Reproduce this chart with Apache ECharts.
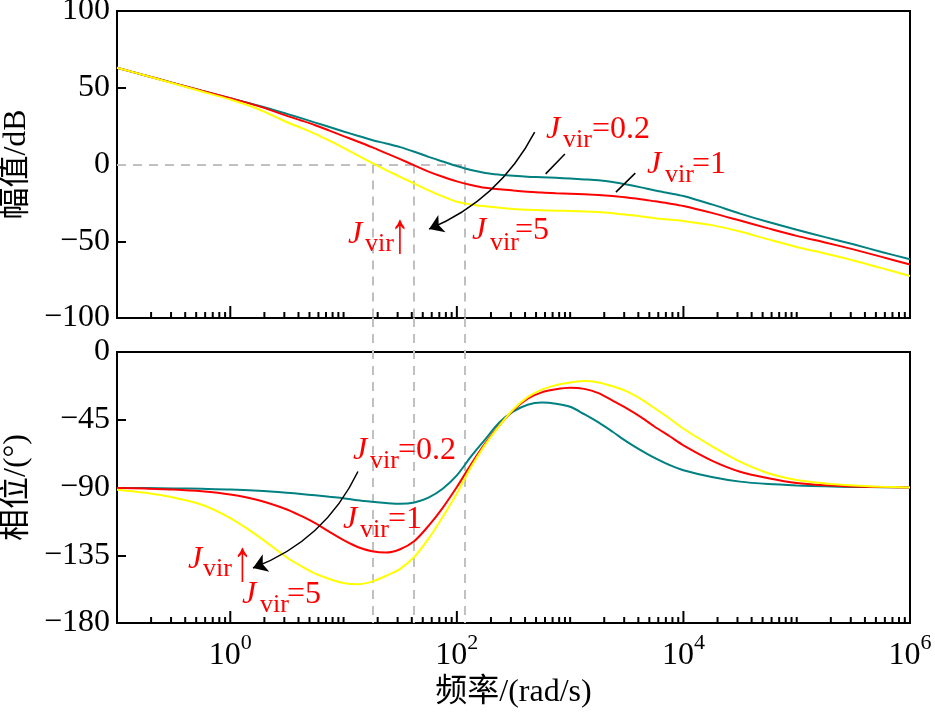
<!DOCTYPE html>
<html><head><meta charset="utf-8">
<script src="https://cdn.jsdelivr.net/npm/echarts@6/dist/echarts.min.js"></script>
<style>html,body{margin:0;padding:0;background:#fff}#c{width:935px;height:719px}</style>
</head><body><div id="c"></div>
<script>
// ---------------- data ----------------
const freqs = [0.1, 0.178, 0.316, 0.562, 1, 1.78,
  3.16, 4.22, 5.62, 7.5, 10, 13.3, 17.8, 23.7, 31.6, 42.2, 56.2, 75, 100, 133, 178, 237, 316, 422, 562, 750,
  1000, 1330, 1780, 2370, 3160, 4220, 5620, 7500, 10000,
  17800, 31600, 56200, 100000, 178000, 316000, 562000, 1000000];
const seriesNames = ['J=0.2', 'J=1', 'J=5'];
// magnitude (dB)
const magJ02 = [63, 58, 53, 48, 43.2, 38.3,
  33, 30.2, 27.3, 24.4, 21.5, 18.7, 16, 13.7, 11.3, 8.3, 5, 2, -1, -3.6, -5.5, -6.6, -7.4, -8, -8.3, -8.7,
  -9.2, -9.7, -10.3, -11.4, -13, -14.9, -17, -18.7, -20.5,
  -26, -32, -37.5, -42.5, -47.3, -52, -57, -61.7];
const magJ1 = [63, 58, 53, 48, 43.2, 38,
  31.7, 28.7, 25.6, 22.1, 18.5, 15, 11.3, 7.4, 3.5, -0.6, -4.6, -8, -11, -13.3, -15.2, -16.2, -17, -17.7, -18.3, -18.7,
  -19, -19.4, -19.8, -20.5, -21.5, -22.6, -24, -25.4, -27,
  -31.5, -36.5, -41.6, -46.5, -50.8, -55.3, -60.2, -65.2];
const magJ5 = [63, 58, 52.8, 47.6, 42.3, 36,
  27.5, 23.9, 20, 15.5, 10.8, 5.9, 1, -3.6, -8, -12.5, -16.8, -20.8, -24.3, -26, -27.2, -28.2, -29, -29.5, -29.8, -30.1,
  -30.3, -30.6, -31, -31.8, -32.8, -33.8, -35, -35.9, -36.8,
  -39.5, -43.7, -48.8, -53.7, -58, -62.5, -67.5, -72.6];
// phase (deg)
const phJ02 = [-90.3, -90.4, -90.6, -90.9, -91.3, -92.2,
  -93.5, -94.3, -95.2, -96.2, -97.1, -98.5, -99.5, -100.3, -100.8, -99.9, -96.7, -90.8, -82, -69.5, -58, -46.8, -39.5, -35, -33.6, -34.3,
  -36.4, -41.3, -46.8, -53, -59.5, -65.3, -70.5, -75, -78.5,
  -83, -86.1, -87.7, -88.6, -89.2, -89.6, -89.8, -90];
const phJ1 = [-90.3, -90.7, -91.3, -92.5, -94.7, -98.5,
  -104.6, -108.9, -113.7, -119.5, -125, -129.5, -132.3, -133.2, -131, -125.5, -115.5, -103.5, -89.7, -74.8, -60.7, -48.8, -38.5, -31, -26.8, -24.8,
  -23.8, -24.5, -27.3, -32.3, -37.5, -43.3, -49.8, -55.8, -62,
  -72.1, -79.5, -83.8, -87, -88.5, -89.3, -89.7, -90];
const phJ5 = [-91.5, -93.5, -96.7, -101.5, -110.4, -122.6,
  -136.5, -142.2, -147.2, -150.8, -153.5, -154.3, -152.5, -148.7, -144, -136, -124, -109.5, -94, -76.6, -61.5, -49, -38, -30, -25, -22,
  -20.3, -19.3, -20.2, -22.8, -26.2, -31.3, -37.5, -44, -51,
  -62.5, -72.8, -80.5, -85, -87.3, -88.7, -89.5, -90];
// crossover frequencies (0 dB) marked by dashed lines
const crossoverFreqs = [18.1, 41.8, 117.5];
const magTicks = [-100, 100, 50];   // min, max, interval
const phaseTicks = [-180, 0, 45];   // min, max, interval
const freqRange = [0.1, 1000000];
const majorTickFreqs = [1, 100, 10000];
const labelTexts = { '0.2': '=0.2', '1': '=1', '5': '=5', 'up': '\u2191' };

// ---------------- layout ----------------
const L = 117, R = 25;
const g0 = { top: 11, height: 307 };
const g1 = { top: 352, height: 271 };
const colors = ['#008080', '#ff0000', '#ffff00'];
const FONT = "'Liberation Serif', 'Times New Roman', 'Noto Sans CJK SC', serif";

// minor ticks: 2..9 per decade plus odd decades
const minorTickFreqs = [];
for (let k = -1; k <= 5; k++) {
  for (let m = 2; m <= 9; m++) minorTickFreqs.push(+(m * Math.pow(10, k)).toPrecision(6));
  if (k >= 0 && majorTickFreqs.indexOf(Math.pow(10, k + 1)) < 0 && k + 1 < 6) minorTickFreqs.push(Math.pow(10, k + 1));
}

function tickSeries(idx, yMin) {
  const data = minorTickFreqs.map(f => [f, yMin, 0]).concat(majorTickFreqs.map(f => [f, yMin, 1]));
  return {
    type: 'custom', xAxisIndex: idx, yAxisIndex: idx, silent: true, z: 6, clip: false,
    data: data,
    renderItem: (params, api) => {
      const p = api.coord([api.value(0), api.value(1)]);
      const len = api.value(2) ? 12 : 6;
      return { type: 'line', shape: { x1: p[0], y1: p[1], x2: p[0], y2: p[1] - len },
        style: { stroke: '#000', lineWidth: 2 } };
    }
  };
}

const gapDeg = (g1.top - (g0.top + g0.height)) / g1.height * (phaseTicks[1] - phaseTicks[0]);
const dashStyle = { color: '#c0c0c0', width: 2, type: [9, 7], opacity: 1, curveness: 0 };

function lineSeries(idx, vals, ci) {
  return {
    type: 'line', xAxisIndex: idx, yAxisIndex: idx, name: seriesNames[ci],
    data: freqs.map((f, i) => [f, vals[i]]),
    showSymbol: false, symbol: 'none', smooth: 0.3, z: 3 + ci * 0.1,
    lineStyle: { color: colors[ci], width: 2 }, itemStyle: { color: colors[ci] }
  };
}

function yLabelFmt(v) { return String(v).replace('-', '\u2212'); }

const gridBase = { left: L, right: R, show: true, borderColor: '#000', borderWidth: 2, backgroundColor: 'transparent',
  containLabel: false, outerBoundsMode: 'none' };

const option = {
  animation: false,
  backgroundColor: '#fff',
  textStyle: { fontFamily: FONT },
  grid: [
    Object.assign({ top: g0.top, height: g0.height }, gridBase),
    Object.assign({ top: g1.top, height: g1.height }, gridBase)
  ],
  xAxis: [
    { type: 'log', logBase: 10, gridIndex: 0, min: freqRange[0], max: freqRange[1],
      axisLine: { show: false }, axisTick: { show: false }, axisLabel: { show: false }, splitLine: { show: false } },
    { type: 'log', logBase: 10, gridIndex: 1, min: freqRange[0], max: freqRange[1],
      name: '频率/(rad/s)', nameLocation: 'middle', nameGap: 54,
      nameTextStyle: { fontSize: 32, color: '#000', fontFamily: FONT },
      axisLine: { show: false }, axisTick: { show: false }, splitLine: { show: false },
      axisLabel: {
        margin: 9, color: '#000', showMinLabel: true, showMaxLabel: true, hideOverlap: false,
        formatter: v => { const e = Math.round(Math.log10(v)); return (e >= 0 && e % 2 === 0) ? '{b|10}{s|' + e + '}' : ''; },
        rich: {
          b: { fontSize: 32, lineHeight: 40, verticalAlign: 'bottom', fontFamily: FONT, color: '#000' },
          s: { fontSize: 22, lineHeight: 22, verticalAlign: 'top', fontFamily: FONT, color: '#000' }
        }
      } }
  ],
  yAxis: [
    { type: 'value', gridIndex: 0, min: magTicks[0], max: magTicks[1], interval: magTicks[2],
      name: '幅值/dB', nameLocation: 'middle', nameRotate: 90, nameGap: 81,
      nameTextStyle: { fontSize: 32, color: '#000', fontFamily: FONT },
      axisLine: { show: false }, splitLine: { show: false },
      axisTick: { show: true, inside: true, length: 9, lineStyle: { color: '#000', width: 2 } },
      axisLabel: { fontSize: 32, color: '#000', margin: 7, padding: [7, 0, 0, 0], formatter: yLabelFmt, fontFamily: FONT } },
    { type: 'value', gridIndex: 1, min: phaseTicks[0], max: phaseTicks[1], interval: phaseTicks[2],
      name: '相位/(°)', nameLocation: 'middle', nameRotate: 90, nameGap: 81,
      nameTextStyle: { fontSize: 32, color: '#000', fontFamily: FONT },
      axisLine: { show: false }, splitLine: { show: false },
      axisTick: { show: true, inside: true, length: 9, lineStyle: { color: '#000', width: 2 } },
      axisLabel: { fontSize: 32, color: '#000', margin: 7, padding: [7, 0, 0, 0], formatter: yLabelFmt, fontFamily: FONT } }
  ],
  series: [
    // dashed reference lines
    { type: 'lines', coordinateSystem: 'cartesian2d', xAxisIndex: 0, yAxisIndex: 0, silent: true, clip: false, z: 1,
      symbol: 'none', lineStyle: dashStyle,
      data: [{ coords: [[freqRange[0], 0], [crossoverFreqs[2], 0]] }].concat(
        crossoverFreqs.map(f => ({ coords: [[f, 0], [f, magTicks[0]]] }))) },
    { type: 'lines', coordinateSystem: 'cartesian2d', xAxisIndex: 1, yAxisIndex: 1, silent: true, clip: false, z: 1,
      symbol: 'none', lineStyle: dashStyle,
      data: crossoverFreqs.map(f => ({ coords: [[f, gapDeg], [f, phaseTicks[0]]] })) },
    lineSeries(0, magJ02, 0), lineSeries(0, magJ1, 1), lineSeries(0, magJ5, 2),
    lineSeries(1, phJ02, 0), lineSeries(1, phJ1, 1), lineSeries(1, phJ5, 2),
    tickSeries(0, magTicks[0]), tickSeries(1, phaseTicks[0]),
    // annotation arrows
    { type: 'lines', coordinateSystem: 'cartesian2d', xAxisIndex: 0, yAxisIndex: 0, silent: true, clip: false, z: 8,
      symbol: ['none', 'arrow'], symbolSize: 14,
      lineStyle: { color: '#000', width: 1.5, opacity: 1, curveness: 0.18 },
      data: [{ coords: [[486, 21.1], [56.8, -42.1]] }] },
    { type: 'lines', coordinateSystem: 'cartesian2d', xAxisIndex: 0, yAxisIndex: 0, silent: true, clip: false, z: 8,
      symbol: 'none', lineStyle: { color: '#000', width: 1.5, opacity: 1, curveness: 0 },
      data: [{ coords: [[608, -6.1], [899, 6.8]] }, { coords: [[2535, -18], [3758, -5.6]] }] },
    { type: 'lines', coordinateSystem: 'cartesian2d', xAxisIndex: 1, yAxisIndex: 1, silent: true, clip: false, z: 8,
      symbol: ['none', 'arrow'], symbolSize: 14,
      lineStyle: { color: '#000', width: 1.5, opacity: 1, curveness: 0.2 },
      data: [{ coords: [[13.4, -79.4], [1.585, -143.5]] }] }
  ],
  graphic: []
};

// annotation text: J (italic) + subscript "vir" + rest
const MAIN = 32, SUB = 26, RED = '#ff0000';
function ann(xJ, xSub, xRest, baseMain, baseSub, rest) {
  return [
    { type: 'text', z: 20, style: { text: 'J', x: xJ, y: baseMain - 0.3375 * MAIN, verticalAlign: 'middle', align: 'left',
      font: 'italic ' + MAIN + 'px ' + FONT, fill: RED } },
    { type: 'text', z: 20, style: { text: 'vir', x: xSub, y: baseSub - 0.3375 * SUB, verticalAlign: 'middle', align: 'left',
      font: SUB + 'px ' + FONT, fill: RED } },
    { type: 'text', z: 20, style: { text: rest, x: xRest, y: baseMain - 0.3375 * MAIN, verticalAlign: 'middle', align: 'left',
      font: MAIN + 'px ' + FONT, fill: RED } }
  ];
}
// "J_vir ↑" : the up-arrow character stretched vertically
function annUp(xJ, xSub, xArrowCenter, yArrowMid, baseMain, baseSub) {
  return [
    { type: 'text', z: 20, style: { text: 'J', x: xJ, y: baseMain - 0.3375 * MAIN, verticalAlign: 'middle', align: 'left',
      font: 'italic ' + MAIN + 'px ' + FONT, fill: RED } },
    { type: 'text', z: 20, style: { text: 'vir', x: xSub, y: baseSub - 0.3375 * SUB, verticalAlign: 'middle', align: 'left',
      font: SUB + 'px ' + FONT, fill: RED } },
    { type: 'text', z: 20, x: xArrowCenter, y: yArrowMid, scaleX: 1.15, scaleY: 1.7,
      style: { text: labelTexts.up, x: 0, y: 0, verticalAlign: 'middle', align: 'center',
      font: 'bold 34px ' + FONT, fill: RED } }
  ];
}
option.graphic = [].concat(
  ann(546, 563, 592, 140, 149, labelTexts['0.2']),
  ann(647, 665, 692, 175, 184, labelTexts['1']),
  ann(472, 490, 515, 241.7, 252, labelTexts['5']),
  annUp(348, 365, 400, 237, 245, 253),
  ann(353, 370, 398, 461.7, 470, labelTexts['0.2']),
  ann(343, 360, 388, 530, 539, labelTexts['1']),
  annUp(188, 203, 242.5, 565, 570, 578),
  ann(242, 260, 287, 605, 614, labelTexts['5'])
);

const chart = echarts.init(document.getElementById('c'), null, { renderer: 'canvas' });
chart.setOption(option);
</script></body></html>
